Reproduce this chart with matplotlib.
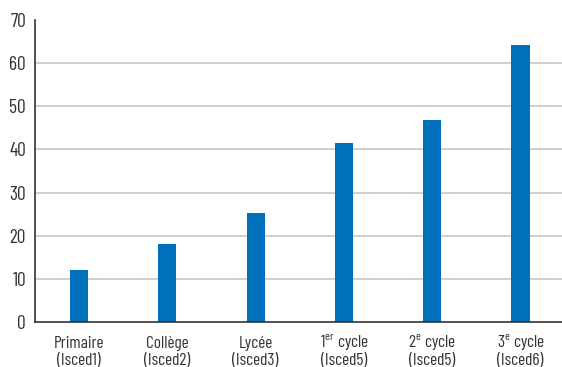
import matplotlib
matplotlib.use("Agg")
import matplotlib.pyplot as plt

levels = ["Primaire", "Collège", "Lycée",
          "1$^{\\mathregular{er}}$ cycle",
          "2$^{\\mathregular{e}}$ cycle",
          "3$^{\\mathregular{e}}$ cycle"]
isced = ["(Isced1)", "(Isced2)", "(Isced3)", "(Isced5)", "(Isced5)", "(Isced6)"]
values = [12.1, 18.1, 25.3, 41.5, 46.8, 64.2]
yticks = [0, 10, 20, 30, 40, 50, 60, 70]

family = "Barlow Condensed"
plt.rcParams["font.family"] = [family, "Archivo Narrow", "DejaVu Sans"]
plt.rcParams["mathtext.fontset"] = "custom"
plt.rcParams["mathtext.rm"] = family

text_color = "#333333"
px = 72 / 100  # points per pixel at dpi 100

fig = plt.figure(figsize=(5.62, 3.67), dpi=100)
ax = fig.add_axes([35 / 562, 45 / 367, 527 / 562, 302 / 367])

x = list(range(len(values)))
ax.bar(x, values, width=0.205, color="#0070BA", zorder=3)

ax.set_xlim(-0.5, 5.47)
ax.set_ylim(0, 70)
ax.set_yticks(yticks)
ax.set_xticks(x)
ax.set_xticklabels([])
ax.tick_params(axis="y", labelsize=14, colors=text_color, length=0, pad=6.5)
ax.tick_params(axis="x", length=0)

# two-line category labels under each bar
for xi, top, bottom in zip(x, levels, isced):
    for label, dy in ((top, -26), (bottom, -43)):
        ax.annotate(label, xy=(xi, 0), xycoords=("data", "axes fraction"),
                    xytext=(0, dy * px), textcoords="offset points",
                    ha="center", va="baseline", fontsize=12.5, color=text_color)

# horizontal grid (none at the top limit)
for yv in yticks[1:-1]:
    ax.axhline(yv, color="#cccccc", linewidth=1.3, zorder=0)

for s in ["top", "right"]:
    ax.spines[s].set_visible(False)
for s in ["left", "bottom"]:
    ax.spines[s].set_color(text_color)
    ax.spines[s].set_linewidth(1.2)
    ax.spines[s].set_zorder(4)

fig.savefig("out.png", dpi=100)
